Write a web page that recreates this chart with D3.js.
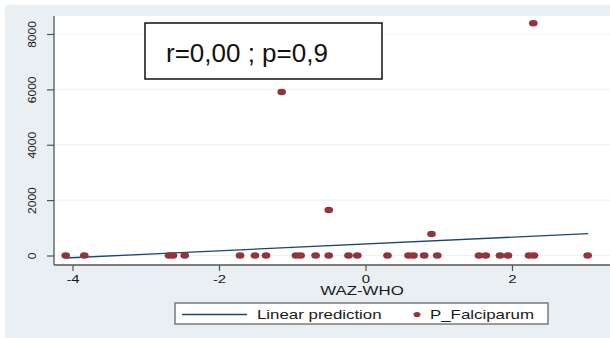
<!DOCTYPE html>
<html><head><meta charset="utf-8">
<script src="https://cdn.jsdelivr.net/npm/d3@7"></script>
<style>
html,body{margin:0;padding:0;background:#fff;}
svg{display:block;font-family:"Liberation Sans",Arial,sans-serif;}
</style></head>
<body>
<svg id="c" width="610" height="338"></svg>
<script>
// ---- data ----
const wazWho = [-4.093,-3.839,-2.683,-2.628,-2.468,-1.713,-1.509,-1.358,-0.949,-0.885,-0.681,-0.502,
  -0.232,-0.112,0.300,0.587,0.655,0.801,0.980,1.549,1.642,1.836,1.945,2.232,2.300,3.033,
  -1.144,-0.502,0.901,2.291];
const pFalciparum = [0,0,0,0,0,0,0,0,0,0,0,0,0,0,0,0,0,0,0,0,0,0,0,0,0,0,
  5905,1643,776,8386];
const predX = [-4.1, 3.04];
const predY = [-90, 790];
const xTicks = [-4,-2,0,2];
const yTicks = [0,2000,4000,6000,8000];
const legendLabels = ["Linear prediction","P_Falciparum"];
const annotation = "r=0,00 ; p=0,9";
const xTitle = "WAZ-WHO";

const svg = d3.select("#c");
const W = 610, H = 338;
const SX = 1.35; // horizontal stretch of the original picture
const plot = {l:54, r:610, t:16, b:265};
const navy = "#1a476f", maroon = "#90353b", axisCol = "#555";

const x = d3.scaleLinear().domain([-4,2]).range([72.5,512]);
const y = d3.scaleLinear().domain([0,8000]).range([255.5,34]);

// background
svg.append("rect").attr("x",5).attr("y",5).attr("width",W-5).attr("height",H-5).attr("fill","#e9eff2");
svg.append("rect").attr("x",plot.l).attr("y",plot.t).attr("width",plot.r-plot.l).attr("height",plot.b-plot.t).attr("fill","#fff");

// grid
svg.append("g").selectAll("line").data(yTicks).join("line")
  .attr("x1",plot.l).attr("x2",plot.r).attr("y1",d=>y(d)).attr("y2",d=>y(d))
  .attr("stroke","#eaf2f3").attr("stroke-width",1.2);

// axes
const yAxis = svg.append("g").attr("transform",`translate(${plot.l},0)`)
  .call(d3.axisLeft(y).tickValues(yTicks).tickSize(7).tickPadding(0).tickFormat(d3.format("d")));
yAxis.select(".domain").remove();
yAxis.selectAll(".tick line").attr("stroke",axisCol).attr("stroke-width",1.2);
yAxis.selectAll(".tick text")
  .attr("x",null).attr("dy",null)
  .attr("text-anchor","middle")
  .attr("transform",`translate(-18,0) rotate(-90) scale(1,0.95)`)
  .attr("font-size",12).attr("fill","#1a1a1a");
svg.append("line").attr("x1",plot.l).attr("x2",plot.l).attr("y1",plot.t).attr("y2",plot.b)
  .attr("stroke",axisCol).attr("stroke-width",1.3);

const xAxis = svg.append("g").attr("transform",`translate(0,${plot.b})`)
  .call(d3.axisBottom(x).tickValues(xTicks).tickSize(6).tickPadding(0).tickFormat(d=>d3.format("d")(d).replace("−","-")));
xAxis.select(".domain").remove();
xAxis.selectAll(".tick line").attr("stroke",axisCol).attr("stroke-width",1.2);
xAxis.selectAll(".tick text")
  .attr("y",18).attr("dy",null)
  .attr("transform",`scale(1.42,1)`)
  .attr("font-size",10.5).attr("fill","#1a1a1a");
svg.append("line").attr("x1",plot.l).attr("x2",plot.r).attr("y1",plot.b).attr("y2",plot.b)
  .attr("stroke",axisCol).attr("stroke-width",1.3);

// axis title
svg.append("text").attr("transform",`translate(362,295) scale(${SX},1)`)
  .attr("text-anchor","middle").attr("font-size",12.5).attr("fill","#1a1a1a").text(xTitle);

// fit line
const pred = predX.map((d,i)=>[d,predY[i]]);
svg.append("path").datum(pred)
  .attr("d",d3.line().x(d=>x(d[0])).y(d=>y(d[1])))
  .attr("stroke",navy).attr("stroke-width",1.3).attr("fill","none");

// points
const pts = wazWho.map((d,i)=>[d,pFalciparum[i]]);
svg.append("g").selectAll("ellipse").data(pts).join("ellipse")
  .attr("cx",d=>x(d[0])).attr("cy",d=>y(d[1]))
  .attr("rx",3.2*SX).attr("ry",3.2).attr("fill",maroon);

// annotation
svg.append("rect").attr("x",145).attr("y",23).attr("width",237).attr("height",56)
  .attr("fill","#fff").attr("stroke","#111").attr("stroke-width",1.5);
svg.append("text").attr("x",166).attr("y",62).attr("font-size",26).attr("fill","#111").text(annotation);

// legend
svg.append("rect").attr("x",175).attr("y",303).attr("width",373).attr("height",21)
  .attr("fill","#fff").attr("stroke","#7a7a7a").attr("stroke-width",1.5);
svg.append("line").attr("x1",182).attr("x2",247).attr("y1",314.5).attr("y2",314.5)
  .attr("stroke",navy).attr("stroke-width",1.3);
svg.append("text").attr("transform",`translate(257,319) scale(${SX},1)`)
  .attr("font-size",12.5).attr("fill","#1a1a1a").text(legendLabels[0]);
svg.append("ellipse").attr("cx",417).attr("cy",314.5).attr("rx",3.2*SX*0.8).attr("ry",3.2*0.8).attr("fill",maroon);
svg.append("text").attr("transform",`translate(430,319) scale(${SX},1)`)
  .attr("font-size",12.5).attr("fill","#1a1a1a").text(legendLabels[1]);
</script>
</body></html>
